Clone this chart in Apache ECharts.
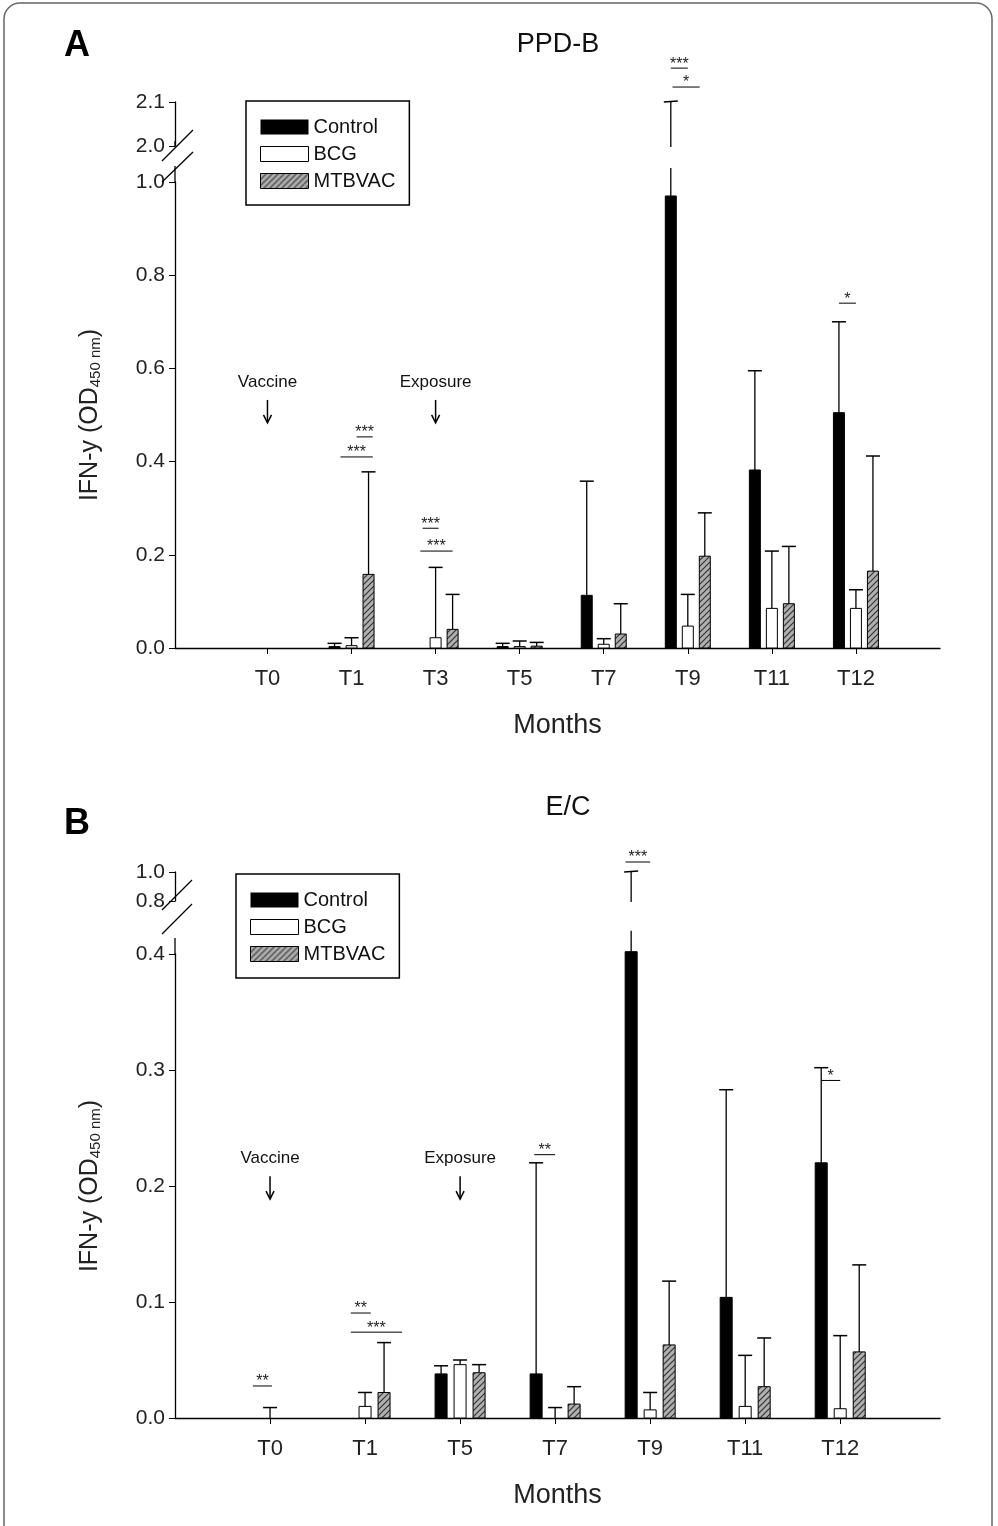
<!DOCTYPE html>
<html><head><meta charset="utf-8">
<script src="https://cdn.jsdelivr.net/npm/echarts@6/dist/echarts.min.js"></script>
<style>html,body{margin:0;padding:0;background:#fff}#c{width:998px;height:1526px}</style>
</head><body><div id="c"></div>
<script>
// ---- data ----
var catsA = ['T0','T1','T3','T5','T7','T9','T11','T12'];
var ctrlA = [0, 0.003, 0, 0.003, 0.113, 0.97, 0.382, 0.505];
var ctrlAErr = [0, 0.010, 0, 0.010, 0.358, 2.10, 0.595, 0.700];
var bcgA = [0, 0.005, 0.022, 0.003, 0.008, 0.047, 0.085, 0.085];
var bcgAErr = [0, 0.022, 0.173, 0.015, 0.020, 0.115, 0.208, 0.125];
var mtbA = [0, 0.158, 0.040, 0.004, 0.030, 0.197, 0.095, 0.165];
var mtbAErr = [0, 0.378, 0.115, 0.012, 0.095, 0.290, 0.218, 0.412];
var ticksALow = [0, 0.2, 0.4, 0.6, 0.8, 1.0];
var ticksAHigh = [2.0, 2.1];
var starsA = [[1,-0.65,1.25,0.41,'***'],[1,0.3,1.25,0.453,'***'],[2,-0.76,0.18,0.257,'***'],[2,-0.9,1.0,0.208,'***'],[7,-1,0,0.74,'*']];
var starsAHigh = [[5,-1,0,2.177,'***'],[5,-0.9,0.7,2.134,'*']];
var notesA = [[0,0.571,'Vaccine'],[2,0.571,'Exposure']];

var catsB = ['T0','T1','T5','T7','T9','T11','T12'];
var ctrlB = [0, 0, 0.038, 0.038, 0.402, 0.104, 0.220];
var ctrlBErr = [0, 0, 0.045, 0.220, 1.0, 0.283, 0.302];
var bcgB = [0, 0.010, 0.046, 0, 0.007, 0.010, 0.008];
var bcgBErr = [0.009, 0.022, 0.050, 0.009, 0.022, 0.054, 0.071];
var mtbB = [0, 0.022, 0.039, 0.012, 0.063, 0.027, 0.057];
var mtbBErr = [0, 0.065, 0.046, 0.027, 0.118, 0.069, 0.132];
var ticksBLow = [0, 0.1, 0.2, 0.3, 0.4];
var ticksBHigh = [0.8, 1.0];
var starsB = [[0,-0.9,0.1,0.0276,'**'],[1,-0.75,0.3,0.0905,'**'],[1,-0.75,1.95,0.074,'***'],[3,-1.1,0,0.227,'**'],[6,-1,0,0.291,'*']];
var starsBHigh = [[4,-1.3,0,1.069,'***']];
var notesB = [[0,0.224,'Vaccine'],[2,0.224,'Exposure']];

// ---- styles ----
var cv = document.createElement('canvas'); cv.width = 6; cv.height = 6;
var g = cv.getContext('2d'); g.fillStyle = '#b0b0b0'; g.fillRect(0,0,6,6);
g.strokeStyle = '#333'; g.lineWidth = 1.2;
g.beginPath(); g.moveTo(0,6); g.lineTo(6,0); g.moveTo(-1,1); g.lineTo(1,-1); g.moveTo(5,7); g.lineTo(7,5); g.stroke();
var hatch = {image: cv, repeat: 'repeat'};
var FONT = 'Liberation Sans';
var fills = ['#000', '#fff', hatch];
var names = ['Control','BCG','MTBVAC'];

function rows(v, e){ return v.map(function(x,i){ return [i, x, e[i]]; }); }

function barSeries(k, data, slot, w, xi, yi, clipTop, cap){
  return {type:'custom', name:names[k], xAxisIndex:xi, yAxisIndex:yi, itemStyle:{color:fills[k], borderColor:'#000'},
    data:data, renderItem:function(p, api){
      var x=api.value(0), v=api.value(1), e=api.value(2);
      var b=api.coord([x,0]); var px=b[0]+slot*(k-1); var pv=api.coord([x,v])[1];
      var ch=[];
      if(e>v){
        var top=Math.min(e,clipTop); var pe=api.coord([x,top])[1];
        ch.push({type:'line',shape:{x1:px,y1:pv,x2:px,y2:pe},style:{stroke:'#000',lineWidth:1.3}});
        if(e<=cap) ch.push({type:'line',shape:{x1:px-7,y1:pe,x2:px+7,y2:pe},style:{stroke:'#000',lineWidth:1.5}});
      }
      if(v>0) ch.push({type:'rect',shape:{x:px-w/2,y:pv,width:w,height:b[1]-pv},style:{fill:fills[k],stroke:'#000',lineWidth:1}});
      return {type:'group',children:ch};
    }};
}
function upperSeries(k, data, slot, xi, yi, from){
  return {type:'custom', name:names[k]+' ', xAxisIndex:xi, yAxisIndex:yi, silent:true,
    data:data.filter(function(r){return r[2]>from;}),
    renderItem:function(p, api){
      var x=api.value(0), e=api.value(2);
      var px=api.coord([x,from])[0]+slot*(k-1);
      var y0=api.coord([x,from])[1]+1, y1=api.coord([x,e])[1];
      return {type:'group',children:[
        {type:'line',shape:{x1:px,y1:y0,x2:px,y2:y1},style:{stroke:'#000',lineWidth:1.3}},
        {type:'line',shape:{x1:px-7,y1:y1,x2:px+7,y2:y1-1},style:{stroke:'#000',lineWidth:1.5}}]};
    }};
}
function starSeries(data, slot, xi, yi){
  return {type:'custom', xAxisIndex:xi, yAxisIndex:yi, silent:true, data:data,
    renderItem:function(p, api){
      var x=api.value(0), a=api.value(1), b=api.value(2), y=api.value(3);
      var c=api.coord([x,y]); var x1=c[0]+a*slot, x2=c[0]+b*slot;
      return {type:'group',children:[
        {type:'line',shape:{x1:x1,y1:c[1],x2:x2,y2:c[1]},style:{stroke:'#000',lineWidth:1}},
        {type:'text',style:{text:data[p.dataIndex][4],x:(x1+x2)/2,y:c[1]+4,align:'center',verticalAlign:'bottom',fill:'#222',font:'16px '+FONT}}]};
    }};
}
function noteSeries(data, xi, yi){
  return {type:'custom', xAxisIndex:xi, yAxisIndex:yi, silent:true, data:data,
    renderItem:function(p, api){
      var c=api.coord([api.value(0),api.value(1)]);
      return {type:'group',children:[
        {type:'text',style:{text:data[p.dataIndex][2],x:c[0],y:c[1],align:'center',verticalAlign:'middle',fill:'#111',font:'17px '+FONT}},
        {type:'line',shape:{x1:c[0],y1:c[1]+18,x2:c[0],y2:c[1]+40},style:{stroke:'#000',lineWidth:1.5}},
        {type:'polyline',shape:{points:[[c[0]-4,c[1]+33],[c[0],c[1]+41],[c[0]+4,c[1]+33]]},style:{stroke:'#000',fill:null,lineWidth:1.5}}]};
    }};
}
function xAx(gi, cats, min, max, show){
  return {type:'value', gridIndex:gi, min:min, max:max, show:show, splitLine:{show:false},
    name: show ? 'Months' : '', nameLocation:'middle', nameGap:64, nameTextStyle:{fontSize:27, color:'#222', fontFamily:FONT},
    axisLine:{onZero:false,lineStyle:{color:'#000',width:1.3}},
    axisTick:{customValues:cats.map(function(c,i){return i;}), length:6, lineStyle:{color:'#000'}},
    axisLabel:{customValues:cats.map(function(c,i){return i;}), formatter:function(v){return cats[Math.round(v)];}, fontSize:22, color:'#222', fontFamily:FONT, margin:20}};
}
function yAx(gi, ticks, named){
  return {type:'value', gridIndex:gi, min:ticks[0], max:ticks[ticks.length-1], splitLine:{show:false},
    axisLine:{show:true,onZero:false,lineStyle:{color:'#000',width:1.3}},
    axisTick:{show:true, customValues:ticks, length:6, lineStyle:{color:'#000'}},
    axisLabel:{customValues:ticks, formatter:function(v){return v.toFixed(1);}, fontSize:21, color:'#222', fontFamily:FONT, margin:10},
    name: named ? '{a|IFN-y (OD}{s|450 nm}{a|)}' : '', nameLocation:'middle', nameGap:72,
    nameTextStyle:{rich:{a:{fontSize:25,color:'#222',fontFamily:FONT},s:{fontSize:15,color:'#222',fontFamily:FONT,padding:[10,0,0,0]}}}};
}
var legendBase = {orient:'vertical', icon:'rect', itemWidth:48, itemHeight:15, itemGap:7, backgroundColor:'#fff', borderColor:'#000', borderWidth:1.5,
  padding:[16,14,14,14], textStyle:{fontSize:20,color:'#111',fontFamily:FONT}, selectedMode:false,
  data:[{name:'Control',itemStyle:{color:'#000',borderColor:'#000'}},{name:'BCG',itemStyle:{color:'#fff',borderColor:'#000',borderWidth:1}},{name:'MTBVAC',itemStyle:{color:hatch,borderColor:'#000',borderWidth:1}}]};

var sA=17, sB=19;
var series = [];
[ [ctrlA,ctrlAErr],[bcgA,bcgAErr],[mtbA,mtbAErr] ].forEach(function(d,k){
  series.push(barSeries(k, rows(d[0],d[1]), sA, 11, 0, 0, 1.03, 1.0));
  series.push(upperSeries(k, rows(d[0],d[1]), sA, 1, 1, 2.0));
});
[ [ctrlB,ctrlBErr],[bcgB,bcgBErr],[mtbB,mtbBErr] ].forEach(function(d,k){
  series.push(barSeries(k, rows(d[0],d[1]), sB, 12, 2, 2, 0.42, 0.4));
  series.push(upperSeries(k, rows(d[0],d[1]), sB, 3, 3, 0.8));
});
series.push(starSeries(starsA, sA, 0, 0), starSeries(starsAHigh, sA, 1, 1), noteSeries(notesA, 0, 0));
series.push(starSeries(starsB, sB, 2, 2), starSeries(starsBHigh, sB, 3, 3), noteSeries(notesB, 2, 2));

function sl(x1,y1,x2,y2){return {type:'line',shape:{x1:x1,y1:y1,x2:x2,y2:y2},style:{stroke:'#000',lineWidth:1.3},z:100};}
var chart = echarts.init(document.getElementById('c'));
chart.setOption({
  animation:false, backgroundColor:'#fff',
  grid:[{left:175,right:58,top:182,height:466},{left:175,right:58,top:102,height:44},
        {left:175,right:58,top:954,height:464},{left:175,right:58,top:872,height:29}],
  xAxis:[xAx(0,catsA,-1.1,8,true), xAx(1,catsA,-1.1,8,false), xAx(2,catsB,-1,7.05,true), xAx(3,catsB,-1,7.05,false)],
  yAxis:[yAx(0,ticksALow,true), yAx(1,ticksAHigh,false), yAx(2,ticksBLow,true), yAx(3,ticksBHigh,false)],
  legend:[Object.assign({left:246,top:101,width:181},legendBase), Object.assign({left:236,top:874,width:181},legendBase)],
  series:series,
  graphic:[
    {type:'rect',shape:{x:4,y:3,width:988,height:1540,r:16},style:{fill:null,stroke:'#666',lineWidth:1.5},z:-1},
    {type:'text',style:{text:'A',x:64,y:28,font:'bold 36px '+FONT,fill:'#000'}},
    {type:'text',style:{text:'PPD-B',x:558,y:45,align:'center',verticalAlign:'middle',font:'27px '+FONT,fill:'#111'}},
    {type:'text',style:{text:'B',x:64,y:806,font:'bold 36px '+FONT,fill:'#000'}},
    {type:'text',style:{text:'E/C',x:568,y:808,align:'center',verticalAlign:'middle',font:'27px '+FONT,fill:'#111'}},
    sl(175,146,175,141), sl(175,182,175,166), sl(162,161,193,130), sl(162,182,193,152),
    sl(175,954,175,938), sl(162,910,192,880), sl(162,934,192,904)
  ]
});
</script></body></html>
